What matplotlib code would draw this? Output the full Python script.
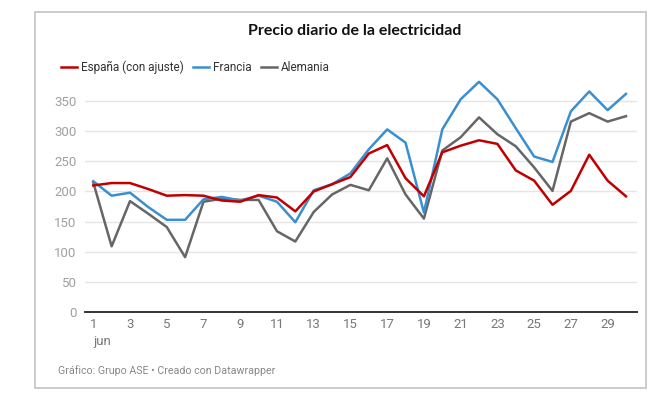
import matplotlib.pyplot as plt
from matplotlib.patches import Rectangle

days = list(range(1, 31))
espana = [210, 214, 214, 204, 193, 194, 193, 185, 183, 194, 190, 167, 200, 212, 224,
          263, 277, 222, 192, 265, 276, 285, 279, 235, 218, 178, 201, 261, 218, 192]
francia = [217, 193, 198, 174, 153, 153, 187, 191, 185, 193, 183, 149, 202, 212, 230,
           270, 303, 281, 165, 303, 353, 382, 353, 305, 258, 249, 333, 366, 335, 362]
alemania = [215, 109, 184, 163, 141, 91, 183, 188, 186, 186, 134, 117, 166, 195, 211,
            202, 255, 195, 155, 268, 290, 323, 295, 275, 240, 201, 316, 330, 316, 325]
xticks = list(range(1, 30, 2))
yticks = [0, 50, 100, 150, 200, 250, 300, 350]

plt.rcParams['font.family'] = ['Roboto', 'DejaVu Sans']

fig = plt.figure(figsize=(6.5, 3.95), dpi=100)
ax = fig.add_axes([85 / 650, 1 - 312 / 395, 552 / 650, 235 / 395])

ax.plot(days, alemania, color='#666666', lw=1.8, label='Alemania', zorder=3)
ax.plot(days, francia, color='#3a8fd0', lw=1.8, label='Francia', zorder=4)
ax.plot(days, espana, color='#c00000', lw=1.8, label='España (con ajuste)', zorder=5)

ax.set_xlim(0.55, 30.6)
ax.set_ylim(0, 390)
ax.set_yticks(yticks)
ax.set_xticks(xticks)
ax.set_xticklabels([str(d) for d in xticks])
ax.grid(axis='y', color='#e5e5e5', lw=1)
ax.set_axisbelow(True)
for s in ['top', 'right', 'left']:
    ax.spines[s].set_visible(False)
ax.spines['bottom'].set_color('#333333')
ax.spines['bottom'].set_linewidth(1.4)
ax.tick_params(axis='both', length=0, labelsize=9.5)
ax.tick_params(axis='y', colors='#a0a0a0', pad=6)
ax.tick_params(axis='x', colors='#777777', pad=4)
ax.text(1, -0.1, 'jun', transform=ax.get_xaxis_transform(), ha='left', va='top',
        fontsize=9.5, color='#777777')

handles, labels = ax.get_legend_handles_labels()
order = [2, 1, 0]
fig.legend([handles[i] for i in order], [labels[i] for i in order],
           loc='center left', bbox_to_anchor=(50 / 650, 1 - 67 / 395), ncol=3, frameon=False,
           fontsize=8.5, handlelength=1.35, handletextpad=0.35, columnspacing=0.8,
           labelcolor='#333333')

fig.text(355 / 650, 1 - 31 / 395, 'Precio diario de la electricidad', ha='center', va='center',
         fontsize=11.5, fontweight='bold', family=['Lato', 'DejaVu Sans'], color='#111111')
fig.text(58 / 650, 1 - 371 / 395, 'Gráfico: Grupo ASE • Creado con Datawrapper', ha='left',
         va='center', fontsize=7.7, color='#888888')

fig.patches.append(Rectangle((35 / 650, 1 - 388 / 395), 611 / 650, 376 / 395,
                             transform=fig.transFigure, fill=False, edgecolor='#c4c4c4', lw=1.2))

fig.savefig('out.png', dpi=100)
